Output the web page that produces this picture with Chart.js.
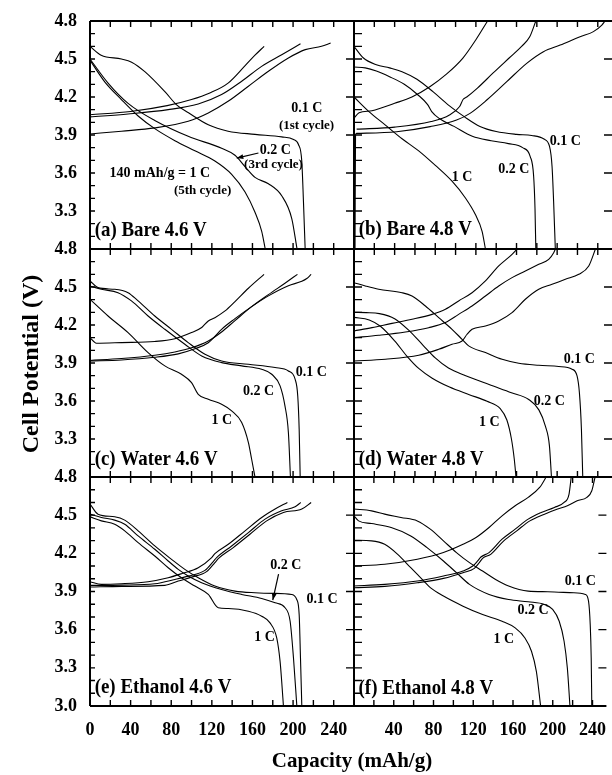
<!DOCTYPE html>
<html>
<head>
<meta charset="utf-8">
<script src="https://cdn.jsdelivr.net/npm/chart.js@4.4.0/dist/chart.umd.min.js"></script>
<style>
body{margin:0;background:#fff;}
#wrap{position:relative;width:612px;height:775px;background:#fff;}
#wrap canvas{position:absolute;left:0;top:0;}
</style>
</head>
<body>
<div id="wrap">
<canvas id="pa" width="612" height="775"></canvas>
<canvas id="pb" width="612" height="775"></canvas>
<canvas id="pc" width="612" height="775"></canvas>
<canvas id="pd" width="612" height="775"></canvas>
<canvas id="pe" width="612" height="775"></canvas>
<canvas id="pf" width="612" height="775"></canvas>
</div>
<script>
// [capacity mAh/g, potential V]

// (a) Bare 4.6 V
const a_chg_01 = [[0,3.908],[31,3.93],[63.8,3.956],[96.7,4.008],[116.5,4.074],[136,4.166],[156,4.285],[175.7,4.403],[195.4,4.508],[212,4.574],[228,4.6],[237,4.626]];
const a_chg_02 = [[0,4.043],[37.5,4.066],[77,4.1],[106.6,4.145],[129.6,4.219],[149.4,4.324],[169,4.442],[188.8,4.534],[207.3,4.62]];
const a_chg_1C = [[0,4.06],[40,4.086],[76,4.132],[100,4.18],[118,4.232],[136,4.31],[153,4.45],[162.5,4.53],[171.5,4.6]];
const a_dis_01 = [[0,4.6],[11,4.53],[31,4.5],[41,4.475],[54,4.4],[74,4.24],[85,4.14],[97,4.075],[116.5,3.98],[136,3.93],[162.5,3.905],[188.8,3.885],[200.4,3.865],[205.3,3.825],[208.6,3.69],[210.2,3.38],[211.9,3.0]];
const a_dis_02 = [[0,4.5],[17.8,4.31],[37.5,4.15],[63.8,4.015],[96.7,3.89],[129.6,3.795],[142.8,3.74],[152.7,3.65],[162.5,3.565],[175.7,3.515],[188.8,3.42],[198.7,3.24],[203.9,3.0]];
const a_dis_1C = [[0,4.49],[14.5,4.32],[30.9,4.18],[47.4,4.05],[63.8,3.95],[83.6,3.855],[103.3,3.775],[123,3.695],[139.5,3.59],[152.7,3.45],[162.5,3.29],[169.1,3.14],[172.6,3.0]];

// (b) Bare 4.8 V
const b_chg_01 = [[1,3.0],[1.5,3.9],[2.6,3.913],[42,3.926],[75,3.966],[101,4.018],[114.2,4.071],[130.7,4.176],[150.4,4.321],[170,4.466],[186.5,4.558],[203,4.61],[222.6,4.676],[235.7,4.716],[244,4.768],[247.2,4.8]];
const b_chg_02 = [[2.6,3.946],[40,3.962],[76,4.006],[94,4.058],[104,4.125],[107.5,4.182],[111,4.2],[121.5,4.27],[137,4.39],[153,4.51],[165,4.6],[173,4.675],[179,4.8]];
const b_chg_1C = [[0,4.034],[5,4.075],[17.7,4.092],[40,4.15],[57,4.2],[75,4.283],[91,4.38],[107,4.505],[120,4.652],[131.5,4.8]];
const b_dis_01 = [[0,4.6],[9,4.51],[22,4.455],[35,4.43],[47.3,4.4],[62,4.34],[78,4.24],[94,4.13],[108.5,4.045],[124,3.968],[140,3.928],[160,3.905],[175,3.896],[187,3.868],[192.5,3.81],[195,3.65],[196.5,3.38],[198.2,3.0]];
const b_dis_02 = [[0,4.437],[11,4.43],[22,4.405],[35,4.36],[49.5,4.3],[62.5,4.22],[72.5,4.14],[76.5,4.085],[84,4.03],[98.5,3.968],[116.5,3.89],[135,3.855],[152,3.832],[166,3.8],[173.5,3.73],[176.8,3.58],[178.2,3.32],[179,3.0]];
const b_dis_1C = [[0,4.2],[14.4,4.087],[30.9,3.978],[47.3,3.87],[63.7,3.775],[80.1,3.66],[96.5,3.535],[109.7,3.403],[119.5,3.272],[126.1,3.14],[129.4,3.0]];

// (c) Water 4.6 V
const c_chg_01 = [[0,3.916],[31,3.924],[63.8,3.945],[86.9,3.972],[103.3,4.012],[116.5,4.06],[123,4.11],[129.6,4.166],[142.8,4.25],[159.2,4.345],[175.7,4.43],[195.4,4.51],[208.6,4.545],[213.5,4.567],[217.8,4.6]];
const c_chg_02 = [[0,3.92],[31,3.935],[63.8,3.961],[83.6,3.987],[100,4.02],[116.5,4.074],[129.6,4.145],[142.8,4.235],[159.2,4.345],[175.7,4.44],[192,4.53],[204.3,4.6]];
const c_chg_1C = [[0,4.1],[6.3,4.056],[31,4.061],[63.8,4.07],[83.6,4.092],[100,4.14],[110,4.18],[116.5,4.232],[123,4.258],[133,4.311],[142.8,4.385],[156,4.49],[171.4,4.6]];
const c_dis_01 = [[0,4.548],[7.9,4.495],[24.3,4.482],[37.5,4.455],[47.4,4.39],[63.8,4.271],[80.3,4.166],[96.7,4.061],[113.2,3.969],[129.6,3.916],[156,3.89],[182.3,3.864],[195.4,3.837],[202,3.772],[204.6,3.64],[206,3.377],[207,3.0]];
const c_dis_02 = [[0,4.508],[11.2,4.482],[27.6,4.455],[40.8,4.39],[57.2,4.271],[73.7,4.166],[93.4,4.048],[110,3.956],[129.6,3.903],[149.4,3.877],[169,3.85],[179,3.811],[187.2,3.719],[192,3.561],[195.4,3.35],[197.4,3.0]];
const c_dis_1C = [[0,4.403],[17.8,4.271],[37.5,4.14],[57.2,3.982],[73.7,3.877],[90.1,3.811],[100,3.745],[106.6,3.653],[116.5,3.614],[129.6,3.574],[139.5,3.522],[149.4,3.43],[156,3.272],[159.2,3.14],[162.5,3.0]];

// (d) Water 4.8 V
const d_chg_01 = [[0,3.916],[30.9,3.93],[63.7,3.961],[83.4,4.008],[96.5,4.048],[106.4,4.074],[111.3,4.127],[116.2,4.166],[129.4,4.192],[142.5,4.232],[155.6,4.298],[168.7,4.403],[181.9,4.482],[195,4.521],[208.1,4.561],[221.3,4.6],[231.1,4.666],[237.7,4.8]];
const d_chg_02 = [[0,4.1],[24.3,4.119],[50.6,4.145],[73.5,4.179],[90,4.219],[103,4.284],[116.2,4.35],[129.4,4.429],[142.5,4.508],[155.6,4.574],[168.7,4.626],[181.9,4.679],[191.7,4.718],[196.6,4.771],[198.3,4.8]];
const d_chg_1C = [[0,4.153],[17.7,4.179],[37.4,4.213],[57.1,4.245],[76.8,4.284],[90,4.324],[103,4.39],[116.2,4.455],[129.4,4.548],[142.5,4.666],[155.6,4.758],[160.5,4.8]];
const d_dis_01 = [[0,4.534],[11.2,4.508],[24.3,4.482],[47.3,4.455],[57.1,4.429],[70.3,4.35],[83.4,4.258],[96.5,4.166],[106.4,4.087],[112.9,4.035],[129.4,3.982],[145.8,3.929],[162.2,3.898],[181.9,3.882],[201.6,3.872],[214.7,3.851],[219.6,3.798],[221.9,3.666],[223.9,3.377],[225.2,3.0]];
const d_dis_02 = [[0,4.3],[12,4.298],[25,4.29],[40,4.25],[55,4.15],[68,4.04],[80,3.94],[93,3.86],[110,3.8],[133,3.73],[155,3.665],[172,3.612],[182,3.53],[188.5,3.4],[192.4,3.246],[194.4,3.0]];
const d_dis_1C = [[0,4.26],[15,4.24],[26,4.19],[40,4.075],[52,3.955],[64,3.855],[77,3.78],[94,3.71],[113.5,3.65],[131,3.598],[144,3.54],[150.5,3.45],[155,3.3],[157.8,3.14],[159.5,3.0]];

// (e) Ethanol 4.6 V
const e_chg_01 = [[0,3.935],[31,3.94],[73.7,3.948],[86.9,3.982],[100,4.013],[114.8,4.056],[123,4.127],[126.3,4.158],[141.1,4.245],[157.5,4.35],[174,4.455],[190.5,4.521],[208.6,4.548],[217.8,4.6]];
const e_chg_02 = [[0,3.948],[31,3.95],[63.8,3.961],[83.6,3.995],[96.7,4.021],[113.2,4.066],[121.4,4.135],[124.7,4.166],[139.5,4.258],[156,4.363],[172.4,4.469],[188.8,4.534],[202,4.566],[207.6,4.6]];
const e_chg_1C = [[0,3.977],[11.2,3.956],[31,3.961],[57.2,3.977],[77,4.008],[90.1,4.04],[106.6,4.087],[119.8,4.166],[123,4.198],[136.2,4.271],[152.7,4.377],[169.1,4.482],[182.3,4.548],[194.4,4.6]];
const e_dis_01 = [[0,4.587],[7.9,4.508],[24.3,4.487],[34.2,4.461],[47.4,4.377],[63.8,4.258],[80.3,4.153],[93.4,4.074],[106.6,4.008],[123,3.943],[142.8,3.903],[162.5,3.89],[182.3,3.885],[198.7,3.877],[203.6,3.837],[206,3.719],[207.3,3.377],[208.6,3.0]];
const e_dis_02 = [[0,4.508],[11.2,4.482],[24.3,4.461],[34.2,4.429],[47.4,4.337],[63.8,4.232],[77,4.14],[86.9,4.074],[96.7,4.022],[109.9,3.969],[129.6,3.916],[149.4,3.877],[169.1,3.845],[182.3,3.811],[192.1,3.772],[197.1,3.666],[200.4,3.377],[203.7,3.0]];
const e_dis_1C = [[0,4.487],[11.2,4.455],[24.3,4.429],[34.2,4.377],[47.4,4.284],[63.8,4.179],[77,4.087],[90.1,4.008],[103.3,3.943],[116.5,3.877],[126.3,3.772],[136.2,3.766],[156,3.745],[169.1,3.706],[177.3,3.653],[183.9,3.535],[187.2,3.351],[188.8,3.193],[190.5,3.0]];

// (f) Ethanol 4.8 V
const f_chg_01 = [[0,3.93],[30.9,3.94],[63.7,3.969],[90,4.003],[109.7,4.048],[121.1,4.082],[126.1,4.127],[129.4,4.161],[137.6,4.192],[150.7,4.298],[163.8,4.377],[177,4.455],[191.7,4.508],[204.9,4.548],[214.7,4.574],[224.6,4.613],[234.4,4.64],[239.3,4.692],[242.6,4.8]];
const f_chg_02 = [[0,3.943],[30.9,3.956],[63.7,3.982],[90,4.022],[109.7,4.061],[119.5,4.1],[124.4,4.14],[127.7,4.171],[135.9,4.206],[149,4.311],[162.2,4.39],[175.3,4.469],[188.4,4.521],[201.6,4.561],[211.4,4.6],[216.4,4.666],[218.6,4.8]];
const f_chg_1C = [[0,4.1],[30.9,4.114],[63.7,4.153],[90,4.206],[109.7,4.271],[122.8,4.324],[135.9,4.403],[149,4.495],[162.2,4.574],[175.3,4.64],[186.8,4.718],[193.4,4.8]];
const f_dis_01 = [[0,4.548],[17.7,4.534],[30.9,4.508],[47.3,4.482],[63.7,4.455],[76.8,4.39],[90,4.298],[103.1,4.206],[116.2,4.127],[129.4,4.061],[142.5,3.995],[155.6,3.943],[175.3,3.903],[195,3.898],[221.3,3.89],[232.8,3.877],[236,3.824],[237.7,3.64],[238.7,3.377],[239.3,3.0]];
const f_dis_02 = [[0,4.495],[4.6,4.455],[17.7,4.434],[37.4,4.403],[57.1,4.337],[73.5,4.245],[90,4.14],[103.1,4.048],[116.2,3.956],[135.9,3.877],[155.6,3.837],[175.3,3.819],[191.7,3.798],[199.9,3.759],[206.5,3.666],[211.4,3.509],[214.7,3.298],[217.3,3.0]];
const f_dis_1C = [[0,4.303],[17.7,4.298],[30.9,4.271],[44,4.192],[57.1,4.087],[70.3,3.982],[76.8,3.93],[90,3.864],[109.7,3.785],[129.4,3.719],[149,3.666],[162.2,3.614],[172,3.535],[178.6,3.43],[183.5,3.272],[187.8,3.0]];

// tick labels
const yTickLabels = [3.0, 3.3, 3.6, 3.9, 4.2, 4.5, 4.8];
const xTickLabels = [0, 40, 80, 120, 160, 200, 240];

const serif = '"Liberation Serif", "Times New Roman", serif';
const colX = [[90, 354], [354, 612]];
const rowY = [[21, 249], [249, 477], [477, 706]];
const capMax = [260, 254];
const yAxisW = 60;   // room for the y tick labels (left column only)
const xAxisH = 40;   // room for the x tick labels (bottom row only)

const panels = [
  {id:'pa', col:0, row:0, title:'(a) Bare 4.6 V', label:[4.6,3.144],
   curves:[a_chg_01,a_chg_02,a_chg_1C,a_dis_01,a_dis_02,a_dis_1C],
   notes:[['0.1 C',213.6,4.113,14],['(1st cycle)',213.3,3.977,13],['0.2 C',182.4,3.776,14],['(3rd cycle)',180.7,3.666,13],
          ['140 mAh/g = 1 C',68.8,3.6,14],['(5th cycle)',110.9,3.46,13]],
   arrows:[[165.9,3.758,144.5,3.718]]},
  {id:'pb', col:1, row:0, title:'(b) Bare 4.8 V', label:[4.6,3.152],
   curves:[b_chg_01,b_chg_02,b_chg_1C,b_dis_01,b_dis_02,b_dis_1C],
   notes:[['0.1 C',208.1,3.85,14],['0.2 C',157.3,3.626,14],['1 C',106.4,3.566,14]], arrows:[]},
  {id:'pc', col:0, row:1, title:'(c) Water 4.6 V', label:[4.6,3.14],
   curves:[c_chg_01,c_chg_02,c_chg_1C,c_dis_01,c_dis_02,c_dis_1C],
   notes:[['0.1 C',218,3.829,14],['0.2 C',165.9,3.679,14],['1 C',129.7,3.45,14]], arrows:[], ytitle:true},
  {id:'pd', col:1, row:1, title:'(d) Water 4.8 V', label:[4.6,3.14],
   curves:[d_chg_01,d_chg_02,d_chg_1C,d_dis_01,d_dis_02,d_dis_1C],
   notes:[['0.1 C',221.9,3.929,14],['0.2 C',192.4,3.6,14],['1 C',133.3,3.429,14]], arrows:[]},
  {id:'pe', col:0, row:2, title:'(e) Ethanol 4.6 V', label:[4.6,3.147],
   curves:[e_chg_01,e_chg_02,e_chg_1C,e_dis_01,e_dis_02,e_dis_1C],
   notes:[['0.2 C',192.9,4.103,14],['0.1 C',228.5,3.841,14],['1 C',171.9,3.54,14]],
   arrows:[[185.7,4.037,180,3.833]], xtitle:true},
  {id:'pf', col:1, row:2, title:'(f) Ethanol 4.8 V', label:[4.6,3.142],
   curves:[f_chg_01,f_chg_02,f_chg_1C,f_dis_01,f_dis_02,f_dis_1C],
   notes:[['0.1 C',227.8,3.98,14],['0.2 C',180.3,3.749,14],['1 C',150.7,3.527,14]], arrows:[]}
];

const frame = {
  id:'frame',
  afterDatasetsDraw(chart, args, o){
    const {ctx, chartArea:a} = chart;
    const x = chart.scales.x, y = chart.scales.y;
    ctx.save();
    ctx.strokeStyle = '#000';
    ctx.fillStyle = '#000';
    ctx.lineWidth = 2;
    ctx.beginPath();
    ctx.moveTo(a.left, a.top); ctx.lineTo(a.right, a.top);
    ctx.moveTo(a.left, a.bottom); ctx.lineTo(a.right, a.bottom);
    ctx.moveTo(a.left, a.top); ctx.lineTo(a.left, a.bottom);
    if (o.col === 0) { ctx.moveTo(a.right, a.top); ctx.lineTo(a.right, a.bottom); }
    ctx.stroke();

    ctx.lineWidth = 1.4;
    ctx.beginPath();
    for (let v = 20; v < x.max; v += 20) {
      const px = x.getPixelForValue(v);
      ctx.moveTo(px, a.top); ctx.lineTo(px, a.top + 6);
      ctx.moveTo(px, a.bottom); ctx.lineTo(px, a.bottom - 6);
    }
    const inLen = o.col === 0 ? 5 : 8;
    for (let k = 31; k < 48; k++) {
      const py = y.getPixelForValue(k / 10);
      ctx.moveTo(a.left, py); ctx.lineTo(a.left + inLen, py);
      if (k % 3 === 0) { ctx.moveTo(a.right, py); ctx.lineTo(a.right - 8, py); }
    }
    ctx.stroke();

    // rate notes
    ctx.textAlign = 'center';
    ctx.textBaseline = 'middle';
    o.notes.forEach(([t, cx, cy, fs]) => {
      ctx.font = 'bold ' + fs + 'px ' + serif;
      ctx.fillText(t, x.getPixelForValue(cx), y.getPixelForValue(cy));
    });

    // arrows
    ctx.lineWidth = 1.2;
    o.arrows.forEach(([x1, y1, x2, y2]) => {
      const p1 = [x.getPixelForValue(x1), y.getPixelForValue(y1)];
      const p2 = [x.getPixelForValue(x2), y.getPixelForValue(y2)];
      const ang = Math.atan2(p2[1] - p1[1], p2[0] - p1[0]);
      ctx.beginPath();
      ctx.moveTo(p1[0], p1[1]); ctx.lineTo(p2[0], p2[1]);
      ctx.stroke();
      ctx.beginPath();
      ctx.moveTo(p2[0], p2[1]);
      ctx.lineTo(p2[0] - 7 * Math.cos(ang - 0.35), p2[1] - 7 * Math.sin(ang - 0.35));
      ctx.lineTo(p2[0] - 7 * Math.cos(ang + 0.35), p2[1] - 7 * Math.sin(ang + 0.35));
      ctx.closePath();
      ctx.fill();
    });

    // panel label, slightly condensed like the original
    ctx.save();
    ctx.translate(x.getPixelForValue(o.label[0]), y.getPixelForValue(o.label[1]));
    ctx.scale(0.86, 1);
    ctx.textAlign = 'left';
    ctx.font = 'bold 22px ' + serif;
    ctx.fillText(o.title, 0, 0);
    ctx.restore();

    // axis titles
    if (o.ytitle) {
      ctx.save();
      ctx.translate(32, 364);
      ctx.rotate(-Math.PI / 2);
      ctx.font = 'bold 24px ' + serif;
      ctx.fillText('Cell Potential (V)', 0, 0);
      ctx.restore();
    }
    if (o.xtitle) {
      ctx.font = 'bold 21px ' + serif;
      ctx.fillText('Capacity (mAh/g)', 352, 762);
    }
    ctx.restore();
  }
};

const tickFont = {family:'Liberation Serif', size:18, weight:'bold'};

panels.forEach(p => {
  const cx = colX[p.col], ry = rowY[p.row];
  const yw = p.col === 0 ? yAxisW : 0;
  const xh = p.row === 2 ? xAxisH : 0;
  new Chart(document.getElementById(p.id), {
    type:'scatter',
    data:{
      datasets: p.curves.map(c => ({
        data: c.map(([cap, v]) => ({x:cap, y:v})),
        showLine:true,
        borderColor:'#000',
        borderWidth:1.1,
        pointRadius:0,
        cubicInterpolationMode:'monotone',
        fill:false
      }))
    },
    options:{
      responsive:false,
      animation:false,
      events:[],
      layout:{padding:{left:cx[0] - yw, right:612 - cx[1], top:ry[0], bottom:775 - ry[1] - xh}},
      plugins:{
        legend:{display:false},
        tooltip:{enabled:false},
        frame:{col:p.col, notes:p.notes, arrows:p.arrows, title:p.title, label:p.label, ytitle:!!p.ytitle, xtitle:!!p.xtitle}
      },
      scales:{
        x:{
          type:'linear', min:0, max:capMax[p.col],
          afterFit: s => { s.height = xh; },
          grid:{display:false}, border:{display:false},
          ticks:{
            display: p.row === 2, stepSize:40, includeBounds:false, autoSkip:false, maxRotation:0, minRotation:0,
            padding:6, color:'#000', font:tickFont,
            callback: v => (xTickLabels.includes(v) && !(p.col === 1 && v === 0)) ? String(v) : ''
          }
        },
        y:{
          type:'linear', min:3, max:4.8,
          afterFit: s => { s.width = yw; },
          grid:{display:false}, border:{display:false},
          ticks:{
            display: p.col === 0, stepSize:0.3, autoSkip:false,
            padding:5, color:'#000', font:tickFont,
            callback: v => {
              const r = Math.round(v * 10) / 10;
              if (!yTickLabels.includes(r)) return '';
              if (p.row < 2 && r === 3.0) return '';
              return r.toFixed(1);
            }
          }
        }
      }
    },
    plugins:[frame]
  });
});
</script>
</body>
</html>
